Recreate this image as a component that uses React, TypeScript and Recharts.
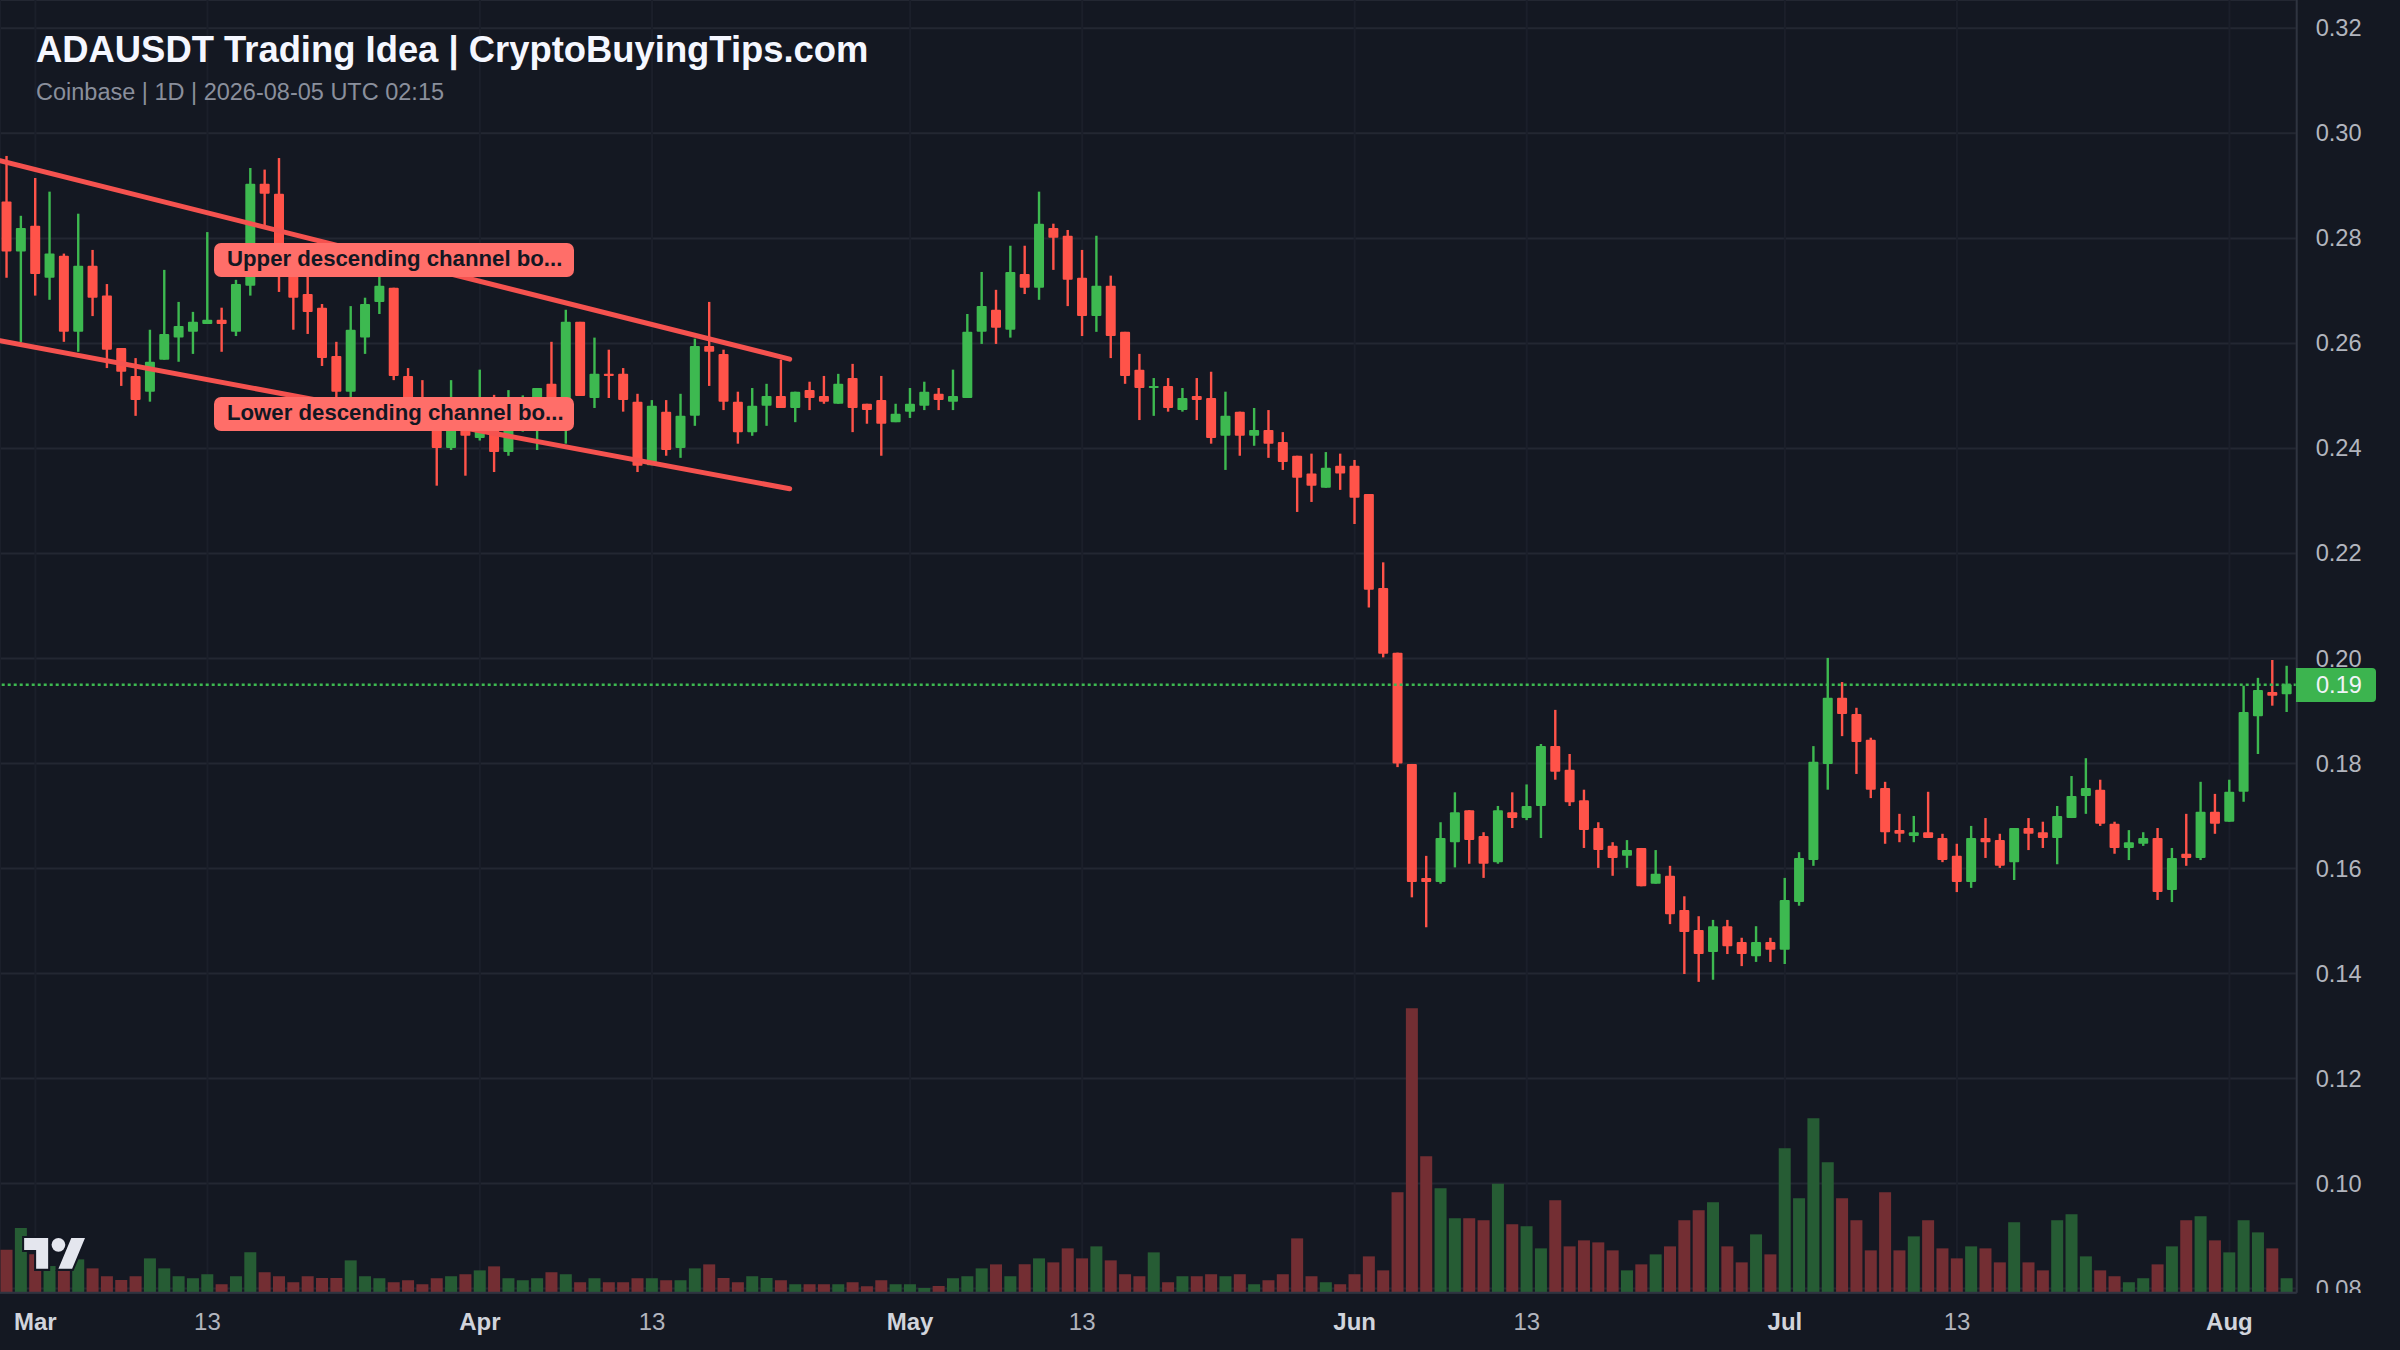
// App.tsx - ADAUSDT daily candles with volume and channel lines
import React from 'react';
import {
  ComposedChart,
  Bar,
  Cell,
  XAxis,
  YAxis,
  CartesianGrid,
  ReferenceLine,
} from 'recharts';

const FONT = '"Liberation Sans", Arial, sans-serif';
const BG = '#141822';
const UP = '#3DB950';
const DOWN = '#FF5349';
const UP_VOL = '#265C34';
const DOWN_VOL = '#732E33';
const LINE_RED = '#F5524F';

// one value per trading day, Feb 27 to Aug 5
const opens = [
  0.2870, 0.2775, 0.2824, 0.2725, 0.2767, 0.2622, 0.2748, 0.2691, 0.2591, 0.2538,
  0.2508, 0.2569, 0.2611, 0.2622, 0.2637, 0.2645, 0.2622, 0.2710, 0.2904, 0.2885,
  0.2784, 0.2694, 0.2668, 0.2576, 0.2508, 0.2611, 0.2679, 0.2706, 0.2538, 0.2480,
  0.2448, 0.2401, 0.2448, 0.2420, 0.2448, 0.2393, 0.2442, 0.2438, 0.2523, 0.2448,
  0.2641, 0.2496, 0.2542, 0.2542, 0.2489, 0.2368, 0.2470, 0.2401, 0.2462, 0.2595,
  0.2580, 0.2489, 0.2431, 0.2481, 0.2500, 0.2477, 0.2511, 0.2500, 0.2485, 0.2534,
  0.2485, 0.2492, 0.2450, 0.2470, 0.2481, 0.2504, 0.2489, 0.2496, 0.2622, 0.2664,
  0.2626, 0.2732, 0.2706, 0.2820, 0.2805, 0.2725, 0.2652, 0.2710, 0.2622, 0.2550,
  0.2515, 0.2519, 0.2473, 0.2500, 0.2496, 0.2424, 0.2470, 0.2424, 0.2435, 0.2412,
  0.2386, 0.2352, 0.2325, 0.2367, 0.2367, 0.2313, 0.2134, 0.2011, 0.1799, 0.1582,
  0.1574, 0.1650, 0.1711, 0.1662, 0.1612, 0.1707, 0.1696, 0.1719, 0.1833, 0.1788,
  0.1730, 0.1677, 0.1643, 0.1624, 0.1639, 0.1571, 0.1586, 0.1521, 0.1483, 0.1441,
  0.1490, 0.1460, 0.1433, 0.1460, 0.1445, 0.1536, 0.1616, 0.1799, 0.1925, 0.1894,
  0.1845, 0.1753, 0.1673, 0.1662, 0.1669, 0.1658, 0.1624, 0.1574, 0.1658, 0.1654,
  0.1612, 0.1677, 0.1669, 0.1658, 0.1696, 0.1738, 0.1750, 0.1685, 0.1639, 0.1647,
  0.1658, 0.1559, 0.1628, 0.1620, 0.1708, 0.1689, 0.1746, 0.1890, 0.1936, 0.1932,
];

const closes = [
  0.2775, 0.2820, 0.2732, 0.2771, 0.2622, 0.2748, 0.2687, 0.2588, 0.2546, 0.2492,
  0.2565, 0.2618, 0.2633, 0.2641, 0.2645, 0.2637, 0.2713, 0.2904, 0.2885, 0.2765,
  0.2687, 0.2660, 0.2572, 0.2508, 0.2626, 0.2675, 0.2710, 0.2538, 0.2461, 0.2448,
  0.2401, 0.2461, 0.2424, 0.2432, 0.2393, 0.2442, 0.2467, 0.2515, 0.2461, 0.2641,
  0.2500, 0.2542, 0.2538, 0.2492, 0.2367, 0.2481, 0.2397, 0.2462, 0.2595, 0.2584,
  0.2489, 0.2431, 0.2481, 0.2500, 0.2477, 0.2508, 0.2496, 0.2489, 0.2523, 0.2477,
  0.2473, 0.2447, 0.2466, 0.2485, 0.2508, 0.2492, 0.2500, 0.2622, 0.2671, 0.2630,
  0.2736, 0.2706, 0.2828, 0.2801, 0.2721, 0.2652, 0.2710, 0.2614, 0.2538, 0.2515,
  0.2519, 0.2477, 0.2496, 0.2492, 0.2420, 0.2462, 0.2424, 0.2435, 0.2409, 0.2374,
  0.2344, 0.2329, 0.2363, 0.2352, 0.2306, 0.2131, 0.2009, 0.1800, 0.1574, 0.1574,
  0.1658, 0.1707, 0.1654, 0.1609, 0.1711, 0.1696, 0.1719, 0.1833, 0.1784, 0.1726,
  0.1673, 0.1635, 0.1620, 0.1635, 0.1566, 0.1590, 0.1513, 0.1479, 0.1437, 0.1490,
  0.1452, 0.1437, 0.1460, 0.1445, 0.1540, 0.1620, 0.1803, 0.1925, 0.1894, 0.1841,
  0.1750, 0.1669, 0.1666, 0.1669, 0.1658, 0.1616, 0.1574, 0.1658, 0.1650, 0.1605,
  0.1677, 0.1666, 0.1658, 0.1700, 0.1738, 0.1753, 0.1685, 0.1639, 0.1650, 0.1658,
  0.1555, 0.1620, 0.1620, 0.1708, 0.1685, 0.1746, 0.1898, 0.1940, 0.1929, 0.1951,
];

const highs = [
  0.2957, 0.2843, 0.2915, 0.2889, 0.2771, 0.2847, 0.2778, 0.2713, 0.2591, 0.2572,
  0.2626, 0.2740, 0.2679, 0.2660, 0.2812, 0.2668, 0.2721, 0.2934, 0.2931, 0.2953,
  0.2791, 0.2727, 0.2675, 0.2603, 0.2671, 0.2687, 0.2727, 0.2706, 0.2553, 0.2530,
  0.2480, 0.2530, 0.2461, 0.2550, 0.2502, 0.2511, 0.2501, 0.2515, 0.2603, 0.2664,
  0.2641, 0.2611, 0.2588, 0.2553, 0.2504, 0.2492, 0.2492, 0.2504, 0.2609, 0.2679,
  0.2588, 0.2508, 0.2515, 0.2523, 0.2569, 0.2508, 0.2527, 0.2538, 0.2542, 0.2561,
  0.2485, 0.2538, 0.2485, 0.2515, 0.2527, 0.2515, 0.2550, 0.2656, 0.2736, 0.2702,
  0.2786, 0.2786, 0.2889, 0.2828, 0.2816, 0.2778, 0.2805, 0.2729, 0.2622, 0.2580,
  0.2534, 0.2534, 0.2515, 0.2534, 0.2546, 0.2508, 0.2470, 0.2477, 0.2473, 0.2431,
  0.2386, 0.2390, 0.2393, 0.2390, 0.2378, 0.2313, 0.2183, 0.2011, 0.1799, 0.1624,
  0.1688, 0.1745, 0.1711, 0.1669, 0.1719, 0.1745, 0.1760, 0.1837, 0.1902, 0.1818,
  0.1750, 0.1688, 0.1650, 0.1654, 0.1639, 0.1635, 0.1605, 0.1547, 0.1509, 0.1502,
  0.1502, 0.1468, 0.1490, 0.1468, 0.1582, 0.1631, 0.1833, 0.2001, 0.1955, 0.1906,
  0.1849, 0.1765, 0.1704, 0.1700, 0.1746, 0.1666, 0.1647, 0.1681, 0.1696, 0.1666,
  0.1677, 0.1696, 0.1689, 0.1719, 0.1776, 0.1810, 0.1769, 0.1689, 0.1673, 0.1669,
  0.1677, 0.1639, 0.1704, 0.1765, 0.1742, 0.1769, 0.1948, 0.1963, 0.1997, 0.1986,
];

const lows = [
  0.2725, 0.2602, 0.2691, 0.2683, 0.2603, 0.2584, 0.2652, 0.2553, 0.2519, 0.2462,
  0.2489, 0.2569, 0.2565, 0.2580, 0.2637, 0.2584, 0.2614, 0.2691, 0.2824, 0.2698,
  0.2626, 0.2618, 0.2557, 0.2492, 0.2492, 0.2580, 0.2656, 0.2530, 0.2442, 0.2438,
  0.2329, 0.2397, 0.2348, 0.2415, 0.2355, 0.2386, 0.2432, 0.2397, 0.2442, 0.2409,
  0.2500, 0.2477, 0.2496, 0.2470, 0.2355, 0.2368, 0.2386, 0.2382, 0.2443, 0.2519,
  0.2473, 0.2409, 0.2424, 0.2443, 0.2477, 0.2450, 0.2473, 0.2485, 0.2485, 0.2431,
  0.2447, 0.2386, 0.2450, 0.2458, 0.2473, 0.2473, 0.2473, 0.2496, 0.2599, 0.2599,
  0.2611, 0.2694, 0.2683, 0.2740, 0.2671, 0.2614, 0.2622, 0.2572, 0.2523, 0.2454,
  0.2462, 0.2470, 0.2470, 0.2454, 0.2409, 0.2359, 0.2386, 0.2405, 0.2382, 0.2359,
  0.2279, 0.2298, 0.2325, 0.2321, 0.2256, 0.2097, 0.2002, 0.1793, 0.1545, 0.1488,
  0.1571, 0.1602, 0.1609, 0.1582, 0.1609, 0.1677, 0.1692, 0.1658, 0.1769, 0.1719,
  0.1639, 0.1601, 0.1586, 0.1601, 0.1566, 0.1571, 0.1494, 0.1399, 0.1384, 0.1388,
  0.1437, 0.1414, 0.1422, 0.1422, 0.1418, 0.1529, 0.1605, 0.1750, 0.1852, 0.1780,
  0.1734, 0.1647, 0.1650, 0.1650, 0.1658, 0.1612, 0.1555, 0.1563, 0.1620, 0.1601,
  0.1578, 0.1635, 0.1639, 0.1608, 0.1696, 0.1704, 0.1681, 0.1628, 0.1616, 0.1643,
  0.1540, 0.1536, 0.1605, 0.1616, 0.1666, 0.1689, 0.1727, 0.1818, 0.1910, 0.1898,
];

const volumes = [
  129, 194, 115, 80, 70, 100, 73, 49, 38, 49,
  103, 73, 49, 43, 55, 25, 49, 121, 61, 49,
  31, 49, 44, 44, 97, 49, 43, 31, 37, 25,
  43, 49, 55, 67, 79, 43, 37, 43, 61, 55,
  31, 43, 31, 31, 43, 43, 37, 37, 73, 85,
  44, 31, 49, 44, 37, 25, 25, 25, 25, 31,
  19, 37, 25, 25, 14, 20, 43, 49, 73, 85,
  49, 85, 103, 91, 133, 103, 139, 97, 55, 49,
  121, 31, 49, 49, 55, 49, 55, 25, 37, 55,
  163, 49, 31, 25, 55, 109, 67, 301, 853, 409,
  313, 223, 223, 217, 327, 205, 199, 133, 277, 139,
  157, 151, 127, 67, 85, 115, 139, 217, 247, 271,
  139, 91, 175, 115, 433, 283, 523, 391, 283, 217,
  127, 301, 127, 169, 217, 133, 103, 139, 133, 91,
  211, 91, 67, 217, 235, 109, 67, 49, 31, 43,
  85, 139, 217, 229, 157, 121, 217, 181, 133, 43,
];

const dateTicks = [2, 14, 33, 45, 63, 75, 94, 106, 124, 136, 155];
const dateLabels = ['Mar', '13', 'Apr', '13', 'May', '13', 'Jun', '13', 'Jul', '13', 'Aug'];
const priceTicks = [0.08, 0.1, 0.12, 0.14, 0.16, 0.18, 0.2, 0.22, 0.24, 0.26, 0.28, 0.3, 0.32];

const upperChannel = [
  { x: -0.467, y: 0.2948 },
  { x: 54.6, y: 0.257 },
];
const lowerChannel = [
  { x: -0.467, y: 0.2605 },
  { x: 54.6, y: 0.2323 },
];
const lastPrice = 0.195;

const rows = opens.map((open, i) => ({
  i,
  open,
  close: closes[i],
  high: highs[i],
  low: lows[i],
  volume: volumes[i],
}));

const X_DOMAIN: [number, number] = [-0.467, 159.69];

function Candle(props: any) {
  const { x, y, width, height, payload } = props;
  const up = payload.close >= payload.open;
  const color = up ? UP : DOWN;
  const perUnit = height / (payload.high - payload.low);
  const bodyTop = y + (payload.high - Math.max(payload.open, payload.close)) * perUnit;
  const bodyH = Math.abs(payload.open - payload.close) * perUnit;
  return (
    <g>
      <rect x={x + width / 2 - 1.2} y={y} width={2.4} height={height} fill={color} />
      <rect x={x} y={bodyTop} width={width} height={Math.max(bodyH, 2)} rx={1} fill={color} />
    </g>
  );
}

function DateTick({ x, y, payload }: any) {
  const label = dateLabels[dateTicks.indexOf(payload.value)];
  const isMonth = label !== '13';
  return (
    <text
      x={x}
      y={y + 29}
      textAnchor="middle"
      fontFamily={FONT}
      fontSize={24}
      fontWeight={isMonth ? 700 : 400}
      fill={isMonth ? '#D1D4DC' : '#B2B5BE'}
    >
      {label}
    </text>
  );
}

function ChannelTag({ top, text }: { top: number; text: string }) {
  return (
    <div
      style={{
        position: 'absolute',
        left: 214,
        top,
        width: 360,
        height: 34,
        boxSizing: 'border-box',
        paddingLeft: 13,
        background: '#FF6E69',
        borderRadius: 7,
        color: '#131722',
        font: `700 22.2px ${FONT}`,
        lineHeight: '31px',
        whiteSpace: 'nowrap',
      }}
    >
      {text}
    </div>
  );
}

export default function App() {
  return (
    <div
      style={{
        position: 'absolute',
        left: 0,
        top: 0,
        width: 2400,
        height: 1350,
        background: BG,
        overflow: 'hidden',
      }}
    >
      <ComposedChart
        width={2400}
        height={1350}
        data={rows}
        margin={{ top: 0, right: 0, bottom: 0, left: 0 }}
      >
        <CartesianGrid xAxisId="price" yAxisId="price" vertical={false} stroke="#232732" strokeWidth={2} />
        <CartesianGrid xAxisId="price" yAxisId="price" horizontal={false} stroke="#1B1F2A" strokeWidth={2} />
        <XAxis
          xAxisId="price"
          dataKey="i"
          type="number"
          domain={X_DOMAIN}
          allowDataOverflow
          ticks={dateTicks}
          interval={0}
          height={57.3}
          tick={<DateTick />}
          tickLine={false}
          stroke="#2F3440"
          strokeWidth={2}
        />
        <XAxis xAxisId="vol" dataKey="i" type="number" domain={X_DOMAIN} allowDataOverflow hide />
        <YAxis
          yAxisId="price"
          orientation="right"
          type="number"
          domain={[0.0792, 0.3254]}
          allowDataOverflow
          ticks={priceTicks}
          interval={0}
          width={103.3}
          tickSize={0}
          tickMargin={19}
          tickFormatter={(v: number) => v.toFixed(2)}
          tick={{ fill: '#B2B5BE', fontFamily: FONT, fontSize: 23.6, textAnchor: 'start', dy: -0.3 }}
          stroke="#2F3440"
          strokeWidth={2}
        />
        <YAxis yAxisId="vol" type="number" domain={[0, 3878]} allowDataOverflow hide />

        <Bar
          xAxisId="vol"
          yAxisId="vol"
          dataKey="volume"
          barSize={12}
          isAnimationActive={false}
        >
          {rows.map((r) => (
            <Cell key={r.i} fill={r.close >= r.open ? UP_VOL : DOWN_VOL} />
          ))}
        </Bar>

        <ReferenceLine
          xAxisId="price"
          yAxisId="price"
          y={lastPrice}
          stroke={UP}
          strokeWidth={2.5}
          strokeDasharray="3 3"
        />

        <Bar
          xAxisId="price"
          yAxisId="price"
          dataKey={(d: any) => [d.low, d.high]}
          barSize={10}
          shape={<Candle />}
          isAnimationActive={false}
        />

        <ReferenceLine
          xAxisId="price"
          yAxisId="price"
          segment={upperChannel}
          stroke={LINE_RED}
          strokeWidth={5}
          strokeLinecap="round"
          ifOverflow="visible"
        />
        <ReferenceLine
          xAxisId="price"
          yAxisId="price"
          segment={lowerChannel}
          stroke={LINE_RED}
          strokeWidth={5}
          strokeLinecap="round"
          ifOverflow="visible"
        />
      </ComposedChart>

      {/* the bottom price label is cut by the time scale */}
      <div style={{ position: 'absolute', left: 2298, top: 1293, width: 102, height: 57, background: BG }} />

      <div
        style={{
          position: 'absolute',
          left: 36,
          top: 29,
          color: '#F5F7FF',
          font: `700 36.4px ${FONT}`,
          whiteSpace: 'nowrap',
        }}
      >
        ADAUSDT Trading Idea | CryptoBuyingTips.com
      </div>
      <div
        style={{
          position: 'absolute',
          left: 36,
          top: 79,
          color: '#8A8F9C',
          font: `400 23.5px ${FONT}`,
          whiteSpace: 'nowrap',
        }}
      >
        Coinbase | 1D | 2026-08-05 UTC 02:15
      </div>

      <ChannelTag top={243} text="Upper descending channel bo..." />
      <ChannelTag top={397} text="Lower descending channel bo..." />

      <div
        style={{
          position: 'absolute',
          left: 2296,
          top: 668,
          width: 80,
          height: 34,
          boxSizing: 'border-box',
          paddingLeft: 20,
          background: '#3CB44F',
          borderRadius: '0 4px 4px 0',
          color: '#F0F3F8',
          font: `400 23.6px ${FONT}`,
          lineHeight: '35px',
        }}
      >
        0.19
      </div>

      <svg
        style={{ position: 'absolute', left: 19, top: 1231 }}
        width={72}
        height={50}
        viewBox="-3 0 42 29"
      >
        <g fill="#E4E6EE" stroke="#131722" strokeWidth={2.4} paintOrder="stroke">
          <path d="M14 22H7V11H0V4h14v18zM28 22h-8l7.5-18h8L28 22z" />
          <circle cx={20} cy={8} r={4} />
        </g>
      </svg>
    </div>
  );
}
